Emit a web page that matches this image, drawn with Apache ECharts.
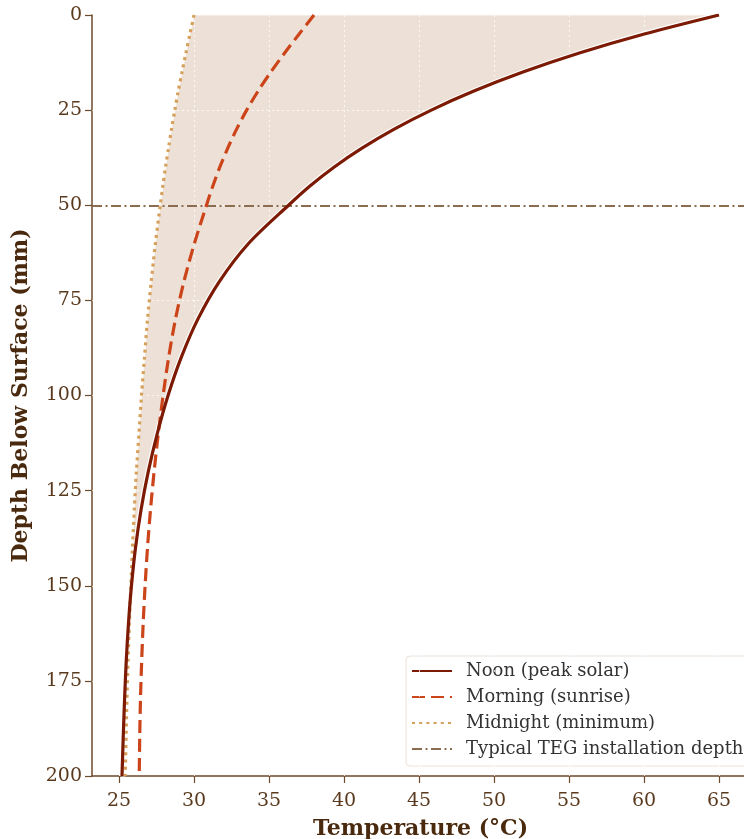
<!DOCTYPE html>
<html>
<head>
<meta charset="utf-8">
<script src="https://cdn.jsdelivr.net/npm/echarts@6/dist/echarts.min.js"></script>
<style>html,body{margin:0;padding:0;background:#fff;}#chart{width:744px;height:839px;}</style>
</head>
<body>
<div id="chart"></div>
<script>
// Depth below surface (mm), shared by all profiles
const depths   = [0, 5, 10, 15, 20, 25, 30, 35, 40, 45, 50, 60, 70, 80, 90, 100, 110, 120, 130, 140, 150, 160, 170, 180, 190, 200];
// Temperatures (°C)
const noon     = [65.0, 60.02, 55.69, 51.93, 48.66, 45.82, 43.35, 41.2, 39.33, 37.71, 36.3, 33.65, 31.7, 30.25, 29.15, 28.27, 27.55, 26.95, 26.47, 26.1, 25.83, 25.63, 25.48, 25.37, 25.28, 25.2];
const morning  = [38.0, 37.01, 36.04, 35.12, 34.27, 33.51, 32.84, 32.25, 31.72, 31.25, 30.83, 30.03, 29.33, 28.76, 28.31, 27.94, 27.62, 27.34, 27.1, 26.9, 26.74, 26.61, 26.51, 26.43, 26.38, 26.35];
const midnight = [30.0, 29.73, 29.46, 29.2, 28.95, 28.72, 28.5, 28.3, 28.1, 27.92, 27.75, 27.43, 27.15, 26.9, 26.7, 26.5, 26.33, 26.16, 26.02, 25.9, 25.79, 25.69, 25.6, 25.53, 25.47, 25.42];
const tegDepth = 50;
const xTicks = [25, 30, 35, 40, 45, 50, 55, 60, 65];
const yTicks = [0, 25, 50, 75, 100, 125, 150, 175, 200];

const FONT = 'DejaVu Serif';
const axisColor = '#6b4a2c';
const labelColor = '#5a3a1e';
const titleColor = '#4a2a0e';

const pairs = arr => arr.map((t, i) => [t, depths[i]]);

const chart = echarts.init(document.getElementById('chart'), null, {renderer: 'canvas'});
chart.setOption({
  animation: false,
  backgroundColor: '#ffffff',
  grid: {left: 92, top: 15, width: 657, height: 761, containLabel: false, outerBoundsMode: 'none'},
  xAxis: {
    type: 'value', min: 23.2, max: 67, position: 'bottom',
    name: 'Temperature (°C)', nameLocation: 'middle', nameGap: 42,
    nameTextStyle: {fontFamily: FONT, fontSize: 22, fontWeight: 'bold', color: titleColor},
    axisLine: {show: true, onZero: false, lineStyle: {color: axisColor, width: 1.5}},
    axisTick: {show: true, length: 7, lineStyle: {color: axisColor, width: 1.2}, customValues: xTicks},
    axisLabel: {fontFamily: FONT, fontSize: 19, color: labelColor, margin: 16, customValues: xTicks},
    splitLine: {show: false}
  },
  yAxis: {
    type: 'value', min: 0, max: 200, interval: 25, inverse: true, position: 'left',
    name: 'Depth Below Surface (mm)', nameLocation: 'middle', nameGap: 60, nameRotate: 90,
    nameTextStyle: {fontFamily: FONT, fontSize: 22, fontWeight: 'bold', color: titleColor},
    axisLine: {show: true, onZero: false, lineStyle: {color: axisColor, width: 1.5}},
    axisTick: {show: true, length: 7, lineStyle: {color: axisColor, width: 1.2}},
    axisLabel: {fontFamily: FONT, fontSize: 19, color: labelColor, margin: 10},
    splitLine: {show: false}
  },
  legend: {
    orient: 'vertical', left: 406, top: 656,
    data: ['Noon (peak solar)', 'Morning (sunrise)', 'Midnight (minimum)', 'Typical TEG installation depth'],
    itemWidth: 40, itemHeight: 14, itemGap: 8,
    padding: [6, 10, 8, 5],
    itemStyle: {opacity: 0},
    backgroundColor: '#ffffff', borderColor: '#ebe2d9', borderWidth: 1, borderRadius: 4,
    textStyle: {fontFamily: FONT, fontSize: 18, lineHeight: 18, color: '#333333', padding: [0, 0, 0, 9]}
  },
  series: [
    {
      type: 'custom', name: 'band', silent: true, z: 1,
      data: [0],
      renderItem: function (params, api) {
        const pts = [];
        for (let i = 0; i < depths.length; i++) pts.push(api.coord([noon[i], depths[i]]));
        for (let i = depths.length - 1; i >= 0; i--) pts.push(api.coord([midnight[i], depths[i]]));
        return {type: 'polygon', shape: {points: pts}, style: {fill: 'rgba(200,165,135,0.33)', stroke: 'rgba(255,255,255,0.7)', lineWidth: 1}};
      }
    },
    {
      type: 'line', name: 'grid', data: [], z: 2, silent: true,
      markLine: {
        silent: true, symbol: 'none', label: {show: false},
        lineStyle: {color: 'rgba(255,255,255,0.75)', type: [2, 3], width: 1},
        data: xTicks.map(v => ({xAxis: v})).concat(yTicks.slice(1, -1).map(v => ({yAxis: v})))
      }
    },
    {
      type: 'line', name: 'Typical TEG installation depth', data: [], z: 3,
      symbol: 'none', color: '#8c6c50',
      lineStyle: {color: '#8c6c50', width: 2, type: [10, 3.5, 2, 3.5]},
      markLine: {
        silent: true, symbol: 'none', label: {show: false},
        lineStyle: {color: '#8c6c50', width: 2, type: [10, 3.5, 2, 3.5]},
        data: [{yAxis: tegDepth}]
      }
    },
    {
      type: 'line', name: 'noonHalo', data: pairs(noon), z: 4, silent: true,
      symbol: 'none', smooth: 0.3, lineStyle: {color: '#ffffff', width: 5.5}
    },
    {
      type: 'line', name: 'Midnight (minimum)', data: pairs(midnight), z: 5,
      symbol: 'none', smooth: 0.3, color: '#d6a05a',
      lineStyle: {color: '#d6a05a', width: 3.2, type: [3, 4.2]}
    },
    {
      type: 'line', name: 'Morning (sunrise)', data: pairs(morning), z: 6,
      symbol: 'none', smooth: 0.3, color: '#cc4419',
      lineStyle: {color: '#cc4419', width: 3.2, type: [13, 6]}
    },
    {
      type: 'line', name: 'Noon (peak solar)', data: pairs(noon), z: 7,
      symbol: 'none', smooth: 0.3, color: '#7d1a04',
      lineStyle: {color: '#7d1a04', width: 3.2}
    }
  ]
});
</script>
</body>
</html>
